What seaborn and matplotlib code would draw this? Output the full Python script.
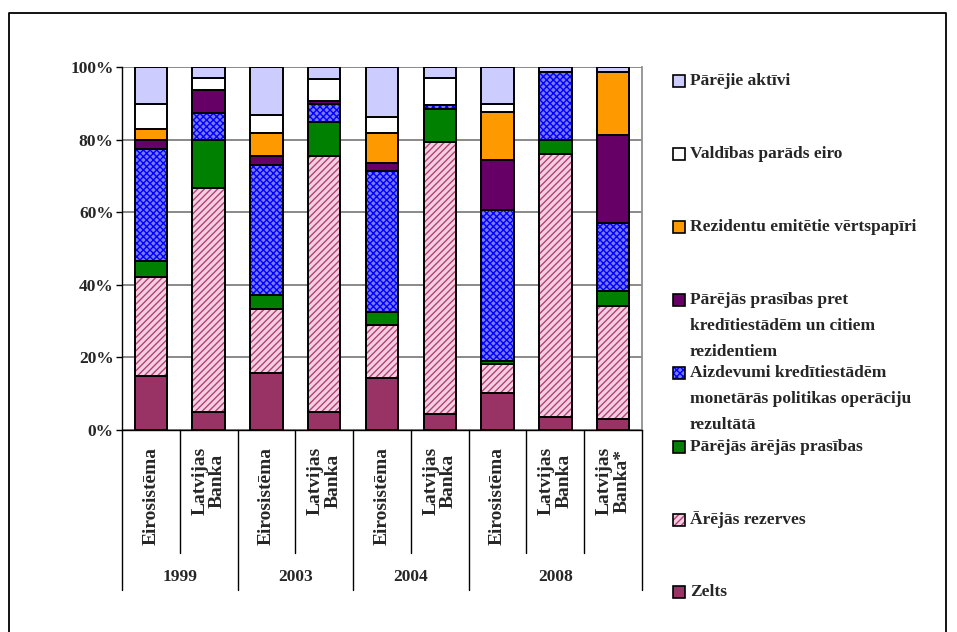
import matplotlib
matplotlib.use("Agg")
import matplotlib.pyplot as plt
from matplotlib.patches import Rectangle
from matplotlib.lines import Line2D
import matplotlib.transforms as mtransforms
import numpy as np
import pandas as pd
import seaborn as sns

# Categories: year groups and institutions
years = ["1999", "1999", "2003", "2003", "2004", "2004", "2008", "2008", "2008"]
institutions = ["Eirosistēma", "Latvijas\nBanka", "Eirosistēma", "Latvijas\nBanka",
                "Eirosistēma", "Latvijas\nBanka", "Eirosistēma", "Latvijas\nBanka",
                "Latvijas\nBanka*"]
year_groups = ["1999", "2003", "2004", "2008"]

# Asset structure shares, % (bottom to top of each stack)
zelts = [14.8, 4.9, 15.7, 4.9, 14.2, 4.5, 10.3, 3.5, 2.9]
arejas_rezerves = [27.4, 61.8, 17.5, 70.5, 14.7, 74.9, 7.9, 72.5, 31.3]
parejas_arejas_prasibas = [4.4, 13.1, 4.1, 9.4, 3.5, 9.1, 0.9, 3.8, 4.1]
aizdevumi = [30.7, 7.4, 35.6, 5.0, 39.0, 1.1, 41.6, 18.7, 18.6]
parejas_prasibas = [2.5, 6.4, 2.5, 0.8, 2.2, 0.0, 13.8, 0.0, 24.5]
rezidentu_vertspapiri = [3.0, 0.0, 6.5, 0.0, 8.2, 0.0, 13.1, 0.0, 17.1]
valdibas_parads = [6.9, 3.5, 5.0, 6.0, 4.4, 7.4, 2.1, 0.0, 0.0]
parejie_aktivi = [10.3, 2.9, 13.1, 3.4, 13.8, 3.0, 10.3, 1.5, 1.5]

series_names = [
    "Zelts",
    "Ārējās rezerves",
    "Pārējās ārējās prasības",
    "Aizdevumi kredītiestādēm\nmonetārās politikas operāciju\nrezultātā",
    "Pārējās prasības pret\nkredītiestādēm un citiem\nrezidentiem",
    "Rezidentu emitētie vērtspapīri",
    "Valdības parāds eiro",
    "Pārējie aktīvi",
]
series_values = [zelts, arejas_rezerves, parejas_arejas_prasibas, aizdevumi,
                 parejas_prasibas, rezidentu_vertspapiri, valdibas_parads,
                 parejie_aktivi]
# (face colour, hatch, hatch colour)
styles = [
    ("#993366", None, None),
    ("#f3cfe0", "/////", "#b53f78"),
    ("#008000", None, None),
    ("#7a7aff", "xxxxx", "#0000ff"),
    ("#660066", None, None),
    ("#ff9900", None, None),
    ("#ffffff", None, None),
    ("#ccccff", None, None),
]

serif = ["Liberation Serif", "DejaVu Serif"]
sns.set_theme(style="white")
plt.rcParams["font.family"] = serif
plt.rcParams["font.weight"] = "bold"
plt.rcParams["hatch.linewidth"] = 1.0

W, H = 957, 632
fig = plt.figure(figsize=(W / 100, H / 100), dpi=100)
ax = fig.add_axes([122 / W, 1 - 430 / H, 520 / W, 363 / H])

keys = [f"{y} {i}" for y, i in zip(years, institutions)]
df = pd.DataFrame({"kat": keys})

bottom = np.zeros(len(keys))
for name, vals, (fc, hatch, hc) in zip(series_names, series_values, styles):
    n_before = len(ax.patches)
    sns.barplot(x=df["kat"], y=vals, bottom=bottom, color=fc, saturation=1,
                width=0.56, errorbar=None, order=keys,
                edgecolor=hc if hatch else "black",
                linewidth=0 if hatch else 1.4, ax=ax, zorder=3)
    new = ax.patches[n_before:]
    if hatch:
        for p in new:
            p.set_hatch(hatch)
            outline = Rectangle(p.get_xy(), p.get_width(), p.get_height(),
                                fill=False, edgecolor="black", linewidth=1.4,
                                zorder=4)
            ax.add_patch(outline)
    bottom = bottom + np.array(vals)

ax.set_ylim(0, 100)
ax.set_xlim(-0.5, len(keys) - 0.5)
ax.set_yticks([0, 20, 40, 60, 80, 100])
ax.set_yticklabels([f"{v}%" for v in [0, 20, 40, 60, 80, 100]],
                   fontsize=12.5, fontweight="bold", family=serif)
ax.set_xticks([])
ax.set_xlabel("")
ax.set_ylabel("")
ax.yaxis.grid(True, color="#808080", linewidth=1.3, zorder=0)
ax.set_axisbelow(True)
ax.tick_params(axis="y", left=True, length=4, width=1, color="black", pad=2)
for side in ["left", "bottom"]:
    ax.spines[side].set_color("black")
    ax.spines[side].set_linewidth(1.0)
ax.spines["top"].set_visible(False)
ax.spines["right"].set_color("#909090")
ax.spines["right"].set_linewidth(1.3)

# Multi-level category axis below the bars
trans = mtransforms.blended_transform_factory(ax.transData, ax.transAxes)
px = 1 / 363.0
group_edges = [-0.5, 1.5, 3.5, 5.5, 8.5]
for k in range(len(keys) + 1):
    xe = k - 0.5
    y_end = -160 * px if xe in group_edges else -123 * px
    ax.add_line(Line2D([xe, xe], [0, y_end], transform=trans, color="black",
                       linewidth=1.0, clip_on=False))
for k, lab in enumerate(institutions):
    ax.text(k, -17 * px, lab, rotation=90, ha="center", va="top",
            transform=trans, fontsize=14, fontweight="bold", family=serif,
            linespacing=1.05)
for g, yr in enumerate(year_groups):
    x0, x1 = group_edges[g], group_edges[g + 1]
    ax.text((x0 + x1) / 2, -147 * px, yr, ha="center", va="center",
            transform=trans, fontsize=12.5, fontweight="bold", family=serif)

# Legend on the right, entries listed from top of stack to bottom
leg_y = [81, 154, 227, 300, 373, 447, 520, 592]
for (name, (fc, hatch, hc)), yc in zip(
        list(zip(series_names, styles))[::-1], leg_y):
    patch_bg = Rectangle((673 / W, 1 - (yc + 6) / H), 12 / W, 12 / H,
                         transform=fig.transFigure, facecolor=fc,
                         edgecolor=hc if hatch else "black",
                         linewidth=0 if hatch else 1.2, hatch=hatch)
    fig.patches.append(patch_bg)
    if hatch:
        fig.patches.append(Rectangle((673 / W, 1 - (yc + 6) / H), 12 / W, 12 / H,
                                     transform=fig.transFigure, fill=False,
                                     edgecolor="black", linewidth=1.2))
    for j, line in enumerate(name.split("\n")):
        fig.text(690 / W, 1 - (yc + 26 * j) / H, line, ha="left", va="center",
                 fontsize=12.5, fontweight="bold", family=serif)

# Outer frame of the chart area
frame = Line2D([9 / W, 9 / W, 946 / W, 946 / W],
               [0, 1 - 13 / H, 1 - 13 / H, 0], transform=fig.transFigure,
               color="black", linewidth=1.3)
fig.lines.append(frame)

fig.savefig("out.png", dpi=100)
